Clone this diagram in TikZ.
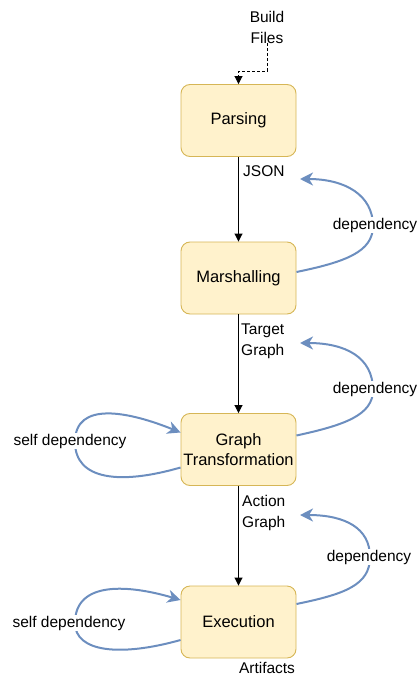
\documentclass[tikz,border=0pt]{standalone}
\usepackage{fontspec}
\setmainfont{Liberation Sans}
\usetikzlibrary{arrows.meta}
\definecolor{boxfill}{HTML}{FFF2CC}
\definecolor{boxline}{HTML}{D6B656}
\definecolor{depblue}{HTML}{6C8EBF}
\tikzset{
  stage/.style={draw=boxline, fill=boxfill, rounded corners=9pt, line width=0.9pt,
    minimum width=115pt, minimum height=72pt, inner sep=0pt, align=center,
    font=\fontsize{16.5}{20}\selectfont},
  lbl/.style={font=\fontsize{15.5}{21}\selectfont, align=left, inner sep=0pt},
  deplbl/.style={font=\fontsize{15.5}{18}\selectfont, fill=white, inner sep=1pt},
  flow/.style={draw=black, line width=0.9pt, -{Triangle[length=8pt,width=8pt]}},
  dep/.style={draw=depblue, line width=2pt, -{Stealth[length=13pt,width=13pt,inset=4pt]}},
}
\begin{document}
\begin{tikzpicture}[x=1pt,y=-1pt]
\useasboundingbox (0,0) rectangle (417,676);
\node[stage] (parse) at (238.5,120.5) {Parsing};
\node[stage] (marsh) at (238.5,278) {Marshalling};
\node[stage] (gt) at (238.5,449.5) {Graph\\Transformation};
\node[stage] (exec) at (238.5,622) {Execution};
\node[lbl, align=center] (build) at (267,27) {Build\\Files};
\node[lbl, anchor=west] (json) at (243,171) {JSON};
\node[lbl, anchor=west] (tg) at (241,341) {Target\\Graph};
\node[lbl, anchor=west] (ag) at (242,513) {Action\\Graph};
\node[font=\fontsize{15.5}{18}\selectfont, inner sep=0pt, anchor=base] (art) at (267,673) {Artifacts};
\coordinate (bend) at (267,71);
% main flow
\draw[black, line width=0.9pt, dash pattern=on 3pt off 2pt, -{Triangle[length=8pt,width=8pt]}] (build.south) -- (bend) -| (parse.north);
\draw[flow] (parse.south) -- (marsh.north);
\draw[flow] (marsh.south) -- (gt.north);
\draw[flow] (gt.south) -- (exec.north);
% dependencies
\coordinate (d1) at (300,179);
\coordinate (d2) at (300,343);
\coordinate (d3) at (300,515);
\draw[dep] ([yshift=6pt]marsh.east) .. controls (345,262) and (373,252) .. (373,226) .. controls (373,195) and (345,179) .. (d1);
\node[deplbl] (dl1) at (375,225) {dependency};
\draw[dep] ([yshift=14pt]gt.east) .. controls (345,425) and (373,415) .. (373,390) .. controls (373,357) and (345,343) .. (d2);
\node[deplbl] (dl2) at (375,389) {dependency};
\draw[dep] ([yshift=18pt]exec.east) .. controls (345,594) and (370,585) .. (370,557) .. controls (370,528) and (345,515) .. (d3);
\node[deplbl] (dl3) at (369,557) {dependency};
% self dependencies
\draw[dep] ([yshift=-18pt]gt.west) .. controls (120,485) and (75,480) .. (75,442) .. controls (75,400) and (130,412) .. ([yshift=17pt]gt.west);
\node[deplbl] (sl1) at (70,441) {self dependency};
\draw[dep] ([yshift=-18pt]exec.west) .. controls (120,657) and (75,652) .. (75,623) .. controls (75,580) and (130,585) .. ([yshift=22pt]exec.west);
\node[deplbl] (sl2) at (69,623) {self dependency};
\end{tikzpicture}
\end{document}
